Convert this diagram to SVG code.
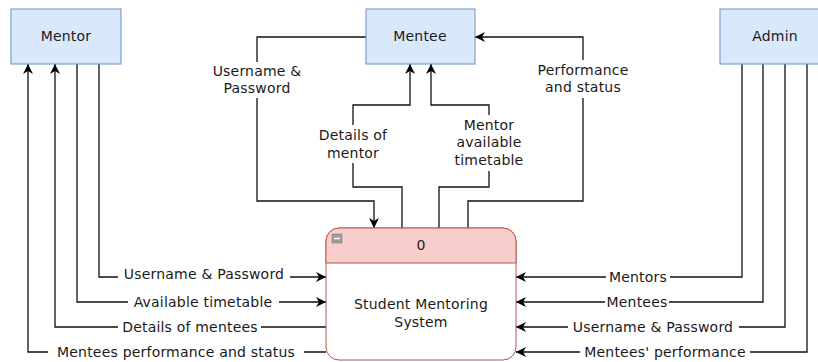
<svg xmlns="http://www.w3.org/2000/svg" width="818" height="362" viewBox="0 0 818 362">
<defs>
<marker id="arr" viewBox="0 0 10 10" refX="10" refY="5" markerWidth="10" markerHeight="10" markerUnits="userSpaceOnUse" orient="auto">
<path d="M0,0 L10,5 L0,10 L3,5 Z" fill="#000"/>
</marker>
<style>
.ent{fill:#dae8fc;stroke:#6c8ebf;stroke-width:1}
.t{font-family:"DejaVu Sans","Liberation Sans",sans-serif;font-size:14px;letter-spacing:0.2px;fill:#1a1a1a;text-anchor:middle;dominant-baseline:central}
.c{fill:none;stroke:#111;stroke-width:1.3}
.a{marker-end:url(#arr)}
.bg{fill:#fff}
</style>
</defs>
<rect width="818" height="362" fill="#fff"/>
<g id="connectors">
<path class="c a" d="M366,37 H257 V201 H374 V228"/>
<path class="c a" d="M402,228 V187 H353 V105 H410 V64"/>
<path class="c a" d="M439,228 V187 H489 V105 H431 V64"/>
<path class="c a" d="M468,228 V201 H583 V37 H475"/>
<path class="c a" d="M99,64 V277 H326"/>
<path class="c a" d="M77,64 V302 H326"/>
<path class="c a" d="M326,327 H55 V64"/>
<path class="c a" d="M326,352 H28 V64"/>
<path class="c a" d="M742,64 V277 H516"/>
<path class="c a" d="M763,64 V302 H516"/>
<path class="c a" d="M785,64 V327 H516"/>
<path class="c a" d="M807,64 V352 H516"/>
<g id="labels">
<rect class="bg" x="210" y="62" width="95" height="36"/>
<text class="t" x="257" y="71">Username &amp;</text>
<text class="t" x="257" y="88">Password</text>
<rect class="bg" x="316" y="125" width="74" height="38"/>
<text class="t" x="353" y="135">Details of</text>
<text class="t" x="353" y="153">mentor</text>
<rect class="bg" x="451" y="115" width="76" height="56"/>
<text class="t" x="489" y="125">Mentor</text>
<text class="t" x="489" y="142">available</text>
<text class="t" x="489" y="160">timetable</text>
<rect class="bg" x="535" y="60" width="100" height="38"/>
<text class="t" x="583" y="70">Performance</text>
<text class="t" x="583" y="87">and status</text>
<rect class="bg" x="118" y="266" width="172" height="20"/>
<text class="t" x="204" y="274">Username &amp; Password</text>
<rect class="bg" x="128" y="292" width="151" height="20"/>
<text class="t" x="203" y="302">Available timetable</text>
<rect class="bg" x="118" y="317" width="143" height="20"/>
<text class="t" x="190" y="327">Details of mentees</text>
<rect class="bg" x="48" y="342" width="256" height="20"/>
<text class="t" x="176" y="352">Mentees performance and status</text>
<rect class="bg" x="606" y="267" width="64" height="20"/>
<text class="t" x="638" y="277">Mentors</text>
<rect class="bg" x="605" y="292" width="64" height="20"/>
<text class="t" x="637" y="302">Mentees</text>
<rect class="bg" x="568" y="317" width="171" height="20"/>
<text class="t" x="653" y="327">Username &amp; Password</text>
<rect class="bg" x="580" y="342" width="170" height="20"/>
<text class="t" x="665" y="352">Mentees' performance</text>
</g>
</g>
<g id="mentor">
<rect class="ent" x="11" y="9" width="110" height="55"/>
<text class="t" x="66" y="36">Mentor</text>
</g>
<g id="mentee">
<rect class="ent" x="366" y="9" width="109" height="55"/>
<text class="t" x="420" y="36">Mentee</text>
</g>
<g id="admin">
<rect class="ent" x="720" y="9" width="112" height="55"/>
<text class="t" x="775" y="36">Admin</text>
</g>
<g id="process">
<rect x="326" y="228" width="190" height="132" rx="13" fill="#fff" stroke="#b85450" stroke-width="1"/>
<path d="M326,263 V241 A13,13 0 0 1 339,228 H503 A13,13 0 0 1 516,241 V263 Z" fill="#f8cecc" stroke="#b85450" stroke-width="1"/>
<rect x="332" y="234" width="10" height="9" fill="#9e9e9e" stroke="#777" stroke-width="0.5"/>
<line x1="334" y1="238.5" x2="340" y2="238.5" stroke="#fff" stroke-width="1.5"/>
<text class="t" x="421" y="245">0</text>
<text class="t" x="421" y="304">Student Mentoring</text>
<text class="t" x="421" y="322">System</text>
</g>
</svg>
